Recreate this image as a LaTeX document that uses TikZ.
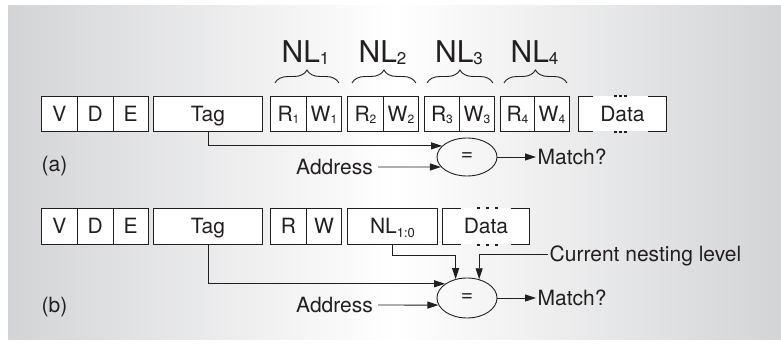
\documentclass[tikz,border=0pt]{standalone}
\usepackage{fontspec}
\setmainfont{TeX Gyre Heros}
\usetikzlibrary{shapes.geometric,arrows.meta,decorations.pathreplacing}
\definecolor{ink}{HTML}{231F20}
\definecolor{bgg}{HTML}{D3D4D6}
\newcommand\subx[1]{\raisebox{-2pt}{\fontsize{12}{12}\selectfont #1}}
\newcommand\subnl[1]{\raisebox{-1.5pt}{\fontsize{17}{17}\selectfont #1}}
\begin{document}
\begin{tikzpicture}[x=1pt,y=-1pt,
  cell/.style={draw=ink, fill=white, line width=0.9pt, anchor=north west, minimum height=35pt,
    inner sep=0pt, text=ink, font=\fontsize{21}{21}\selectfont, text height=15pt, text depth=0pt},
  lbl/.style={text=ink, font=\fontsize{21}{21}\selectfont, inner sep=1.5pt, text height=15pt, text depth=0pt},
  nlstyle/.style={text=ink, font=\fontsize{30}{30}\selectfont, inner sep=0pt, anchor=base},
  ell/.style={draw=ink, line width=0.9pt, ellipse, minimum width=60pt, inner sep=0pt, text=ink,
    font=\fontsize{21}{21}\selectfont},
  arr/.style={draw=ink, line width=0.9pt, -{Triangle[length=11pt,width=7pt]}},
  boxline/.style={draw=ink, line width=0.9pt},
  brc/.style={draw=ink, line width=0.9pt, decorate, decoration={brace, amplitude=13pt}}
]
\useasboundingbox (0,0) rectangle (781,344);
\shade[left color=bgg, right color=bgg, middle color=white] (8,6) rectangle (781,339);

% ---------- row (a) ----------
\node[cell, minimum width=36pt] (va) at (41,96) {V};
\node[cell, minimum width=35.5pt] (da) at (77,96) {D};
\node[cell, minimum width=35.5pt] (eaa) at (112.5,96) {E};
\node[cell, minimum width=109pt] (taga) at (153,96) {Tag};
\node[cell, minimum width=36pt] (r1) at (270,96) {R\subx{1}};
\node[cell, minimum width=35pt] (w1) at (306,96) {W\subx{1}};
\node[cell, minimum width=36pt] (r2) at (347,96) {R\subx{2}};
\node[cell, minimum width=35pt] (w2) at (383,96) {W\subx{2}};
\node[cell, minimum width=35pt] (r3) at (424,96) {R\subx{3}};
\node[cell, minimum width=35pt] (w3) at (459,96) {W\subx{3}};
\node[cell, minimum width=34pt] (r4) at (500,96) {R\subx{4}};
\node[cell, minimum width=35pt] (w4) at (534,96) {W\subx{4}};
\node[cell, draw=none, minimum width=88pt] (dataa) at (578,96) {Data};
\draw[boxline] ([xshift=15pt]dataa.north west) -- (dataa.north west) -- (dataa.south west) -- ([xshift=15pt]dataa.south west);
\draw[boxline] ([xshift=-19pt]dataa.north east) -- (dataa.north east) -- (dataa.south east) -- ([xshift=-19pt]dataa.south east);
\foreach \dx in {-7,-2,3}{
  \fill[ink] ([xshift=\dx pt]dataa.north) ++(-1.3,-1.3) rectangle ++(2.6,2.6);
  \fill[ink] ([xshift=\dx pt]dataa.south) ++(-1.3,-1.3) rectangle ++(2.6,2.6);
}

% braces
\draw[brc] ([xshift=5pt,yshift=13pt]r1.north west) -- ([xshift=-3pt,yshift=13pt]w1.north east);
\draw[brc] ([xshift=5pt,yshift=13pt]r2.north west) -- ([xshift=-3pt,yshift=13pt]w2.north east);
\draw[brc] ([xshift=3pt,yshift=13pt]r3.north west) -- ([xshift=-2pt,yshift=13pt]w3.north east);
\draw[brc] ([xshift=4pt,yshift=13pt]r4.north west) -- ([xshift=-3pt,yshift=13pt]w4.north east);
\node[nlstyle] (nl1) at (305.5,63) {NL\subnl{1}};
\node[nlstyle] (nl2) at (382.5,63) {NL\subnl{2}};
\node[nlstyle] (nl3) at (459,63) {NL\subnl{3}};
\node[nlstyle] (nl4) at (534.5,63) {NL\subnl{4}};

\node[ell, minimum height=38pt] (ea) at (467,157) {=};
\draw[arr] (taga.south) |- (ea.156);
\node[lbl, anchor=east, inner xsep=5pt] (addra) at (378,167) {Address};
\draw[arr] (addra.east) -- (ea.201);
\node[lbl, anchor=west] (ma) at (536,157) {Match?};
\draw[arr] (ea.east) -- (ma.west);
\node[lbl, anchor=west] (la) at (40,164) {(a)};

% ---------- row (b) ----------
\node[cell, minimum width=36pt, minimum height=36pt] (vb) at (41,208) {V};
\node[cell, minimum width=35.5pt, minimum height=36pt] (db) at (77,208) {D};
\node[cell, minimum width=35.5pt, minimum height=36pt] (eb0) at (112.5,208) {E};
\node[cell, minimum width=109pt, minimum height=36pt] (tagb) at (153,208) {Tag};
\node[cell, minimum width=36pt, minimum height=36pt] (rb) at (270,208) {R};
\node[cell, minimum width=35pt, minimum height=36pt] (wb) at (306,208) {W};
\node[cell, minimum width=90pt, minimum height=36pt] (nlb) at (347,208) {NL\raisebox{-4pt}{\fontsize{13}{13}\selectfont 1:0}};
\node[cell, draw=none, minimum width=87pt, minimum height=36pt] (datab) at (442,208) {Data};
\draw[boxline] ([xshift=19pt]datab.north west) -- (datab.north west) -- (datab.south west) -- ([xshift=19pt]datab.south west);
\draw[boxline] ([xshift=-19pt]datab.north east) -- (datab.north east) -- (datab.south east) -- ([xshift=-19pt]datab.south east);
\foreach \dx in {-7.5,1.5,10.5}{
  \fill[ink] ([xshift=\dx pt]datab.north) ++(-1.3,-1.3) rectangle ++(2.6,2.6);
  \fill[ink] ([xshift=\dx pt]datab.south) ++(-1.3,-1.3) rectangle ++(2.6,2.6);
}

\node[ell, minimum height=40pt] (ebb) at (467,298) {=};
\draw[arr] (tagb.south) |- (ebb.147);
\draw[arr] (nlb.south) -- ([yshift=-11pt]nlb.south) -| (ebb.121);
\node[lbl, anchor=west] (cnl) at (548,254) {Current nesting level};
\draw[arr] (cnl.west) -| (ebb.57);
\node[lbl, anchor=east, inner xsep=5pt] (addrb) at (378,305) {Address};
\draw[arr] (addrb.east) -- (ebb.194);
\node[lbl, anchor=west] (mb) at (536,298) {Match?};
\draw[arr] (ebb.east) -- (mb.west);
\node[lbl, anchor=west] (lb) at (40,305) {(b)};
\end{tikzpicture}
\end{document}
